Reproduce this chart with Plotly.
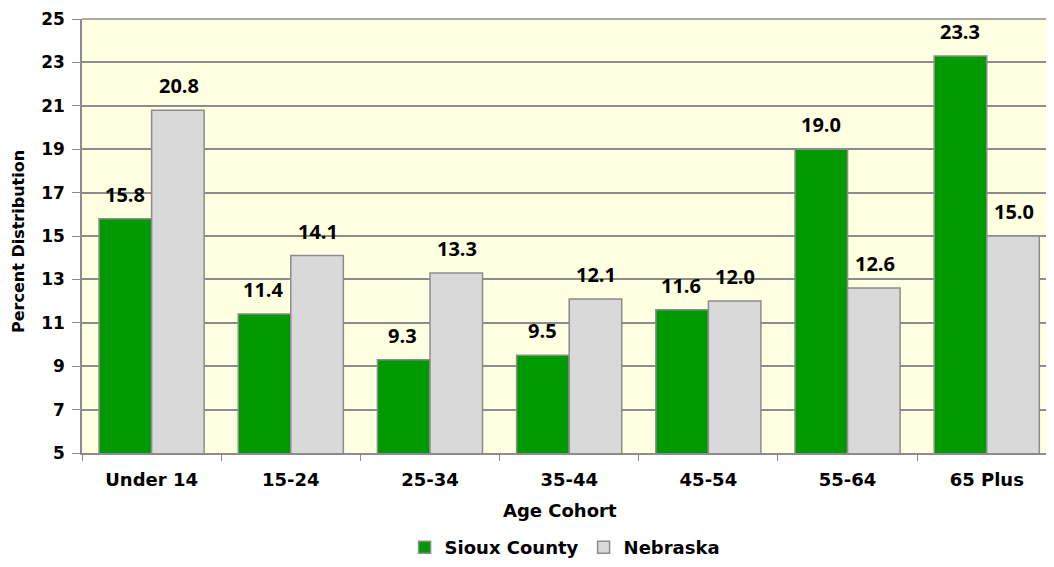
import plotly.graph_objects as go

categories = ["Under 14", "15-24", "25-34", "35-44", "45-54", "55-64", "65 Plus"]
sioux = [15.8, 11.4, 9.3, 9.5, 11.6, 19.0, 23.3]
nebraska = [20.8, 14.1, 13.3, 12.1, 12.0, 12.6, 15.0]
y_ticks = list(range(5, 26, 2))

BOLD = "DejaVu Sans"
fig = go.Figure()
fig.add_trace(go.Bar(x=categories, y=sioux, name="Sioux County",
                     marker=dict(color="#009900", line=dict(color="#8c8c8c", width=1.5))))
fig.add_trace(go.Bar(x=categories, y=nebraska, name="Nebraska",
                     marker=dict(color="#D9D9D9", line=dict(color="#8c8c8c", width=1.5))))

ann = []
for series, shift in ((sioux, -27), (nebraska, 27)):
    for c, v in zip(categories, series):
        ann.append(dict(x=c, y=v, xref="x", yref="y", text=f"<b>{v:.1f}</b>", showarrow=False,
                        xshift=shift, yshift=9, yanchor="bottom",
                        font=dict(family="Open Sans", size=20, color="black")))

# axis titles
ann.append(dict(text="<b>Age Cohort</b>", xref="paper", yref="paper", x=0.5, y=0,
                xshift=-8, yshift=-57, showarrow=False, xanchor="center", yanchor="middle",
                font=dict(family=BOLD, size=18, color="black")))
ann.append(dict(text="<b>Percent Distribution</b>", xref="paper", yref="paper", x=0, y=0.5,
                xshift=-64, yshift=-6, showarrow=False, textangle=-90,
                xanchor="center", yanchor="middle",
                font=dict(family=BOLD, size=16, color="black")))

fig.update_layout(
    width=1046, height=559,
    margin=dict(l=74, r=0, t=11, b=114, autoexpand=False),
    paper_bgcolor="white", plot_bgcolor="#FFFFE2",
    barmode="group", bargap=0.245, bargroupgap=0,
    font=dict(family=BOLD, color="black"),
    annotations=ann,
    showlegend=True,
    legend=dict(orientation="h", x=0.497, xanchor="center", y=-0.218, yanchor="middle",
                font=dict(size=18, family=BOLD, weight="bold"),
                itemwidth=30, traceorder="normal"),
    xaxis=dict(range=[-0.5, 6.483], showline=True, linecolor="#8c8c8c", linewidth=1.5,
               ticks="outside", tickson="boundaries", ticklen=6, tickcolor="#8c8c8c",
               ticklabelstandoff=10, ticklabeloverflow="allow",
               tickfont=dict(size=18, weight="bold"), showgrid=False, automargin=False),
    yaxis=dict(range=[5, 25], tickvals=y_ticks, showline=True, linecolor="#8c8c8c", linewidth=1.5,
               ticks="outside", ticklen=8, tickcolor="#8c8c8c", ticklabelstandoff=4,
               ticklabeloverflow="allow",
               gridcolor="#8c8c8c", gridwidth=1.5, zeroline=False, automargin=False,
               tickfont=dict(size=17, weight="bold")),
)
fig.add_shape(type="line", xref="paper", yref="paper", x0=0, x1=1, y0=1, y1=1,
              line=dict(color="#8c8c8c", width=1.5))

fig.write_html("out.html")
